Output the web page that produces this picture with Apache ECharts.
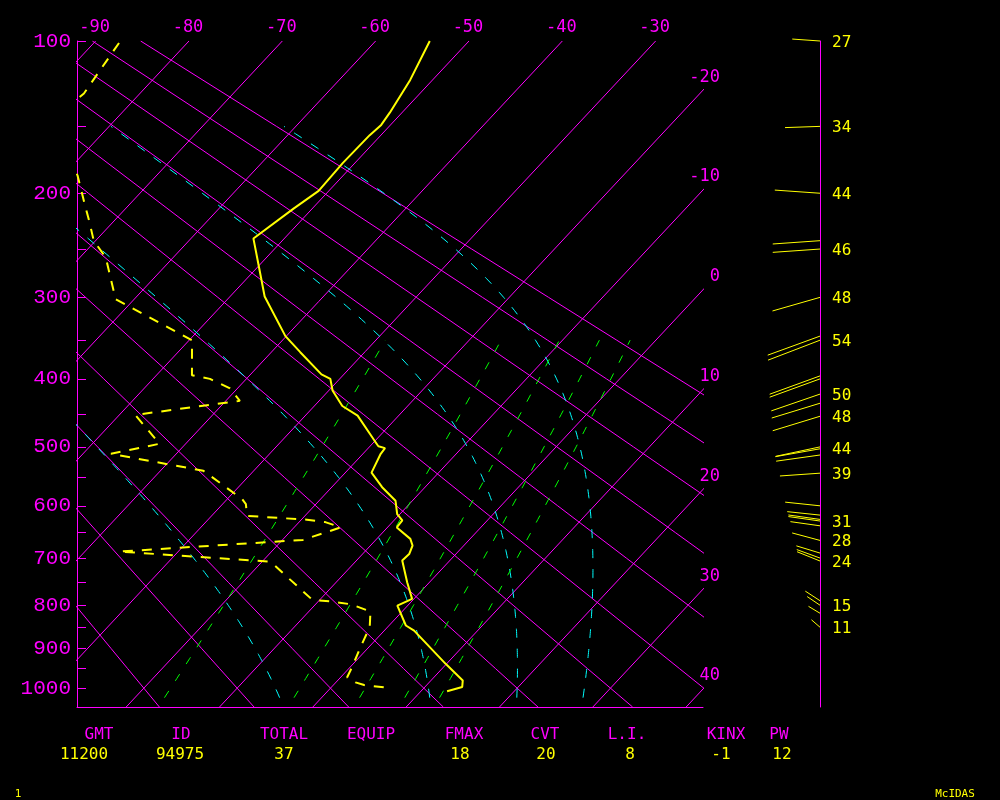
<!DOCTYPE html>
<html><head><meta charset="utf-8">
<script src="https://cdn.jsdelivr.net/npm/echarts@6/dist/echarts.min.js"></script>
<style>html,body{margin:0;padding:0;background:#000}#c{width:1000px;height:800px}</style>
</head><body><div id="c"></div>
<script>
// ---------------- data ----------------
const PRES_T=[100,121,141,149,156,176,198,213,240,260,299,345,365,394,400,416,438,452,490,499,502,511,542,567,591,615,627,640,662,675,692,705,750,786,801,846,858,938,980,997,1008];
const TEMP=[-54.2,-52.4,-51.3,-51.0,-51.2,-51.3,-51.1,-52.0,-53.3,-50.8,-46.3,-40.1,-36.9,-32.4,-31.0,-29.6,-27.0,-24.4,-20.1,-19.1,-18.2,-18.1,-17.2,-14.6,-11.8,-10.3,-9.1,-9.0,-6.4,-5.5,-5.0,-5.1,-2.4,-0.2,-1.1,1.8,3.2,9.9,13.4,14.0,12.8];
const PRES_D=[101,129,150,170,185.5,193,208,225,242,258.5,302,350,395,400,413,430.5,451,495,511,539,588,597,618.5,625.5,630,640,664,687,707,714,788,792,798,814,850,897,946,972,985,992,1000];
const DEWP=[-87.3,-86.0,-87,-82,-78.5,-77.3,-75.0,-72.5,-70.2,-67.2,-62.0,-49.7,-46.2,-43.9,-40.8,-38.5,-48.3,-42.8,-47.0,-35.4,-28.4,-27.5,-26.2,-19.4,-17.2,-15.0,-17.8,-36.3,-19.4,-18.4,-10.8,-8.5,-6.2,-3.4,-1.9,-0.9,0.2,0.7,2.1,3.3,6.6];
const WIND_P=[100,150,200,242,250,300,345,350,396,400,421,434,453,500,503,513,543,600,617,625,628,637,665,690,700,706,790,800,818,850];
const WIND_DIR=[274,268,274,266,266,254,250,249,250,250,251,253,253,258,260,262,266,276,276,278,278,278,285,287,290,292,303,304,301,311];
const WIND_SPD=[27,34,44,46,46,48,54,54,52,52,50,49,48,44,44,43,39,34,32,31,31,29,28,24,24,24,17,15,13,11];
const WLAB_P=[100,150,200,250,300,350,421,453,503,543,628,665,706,800,850];
const WLAB_TXT=['27','34','44','46','48','54','50','48','44','39','31','28','24','15','11'];
const ISOTHERMS=[-90,-80,-70,-60,-50,-40,-30,-20,-10,0,10,20,30,40];
const DRY_THETA=[-20,-10,0,10,20,30,40,50,60,70,80,90];
const MOIST_T1000=[-5.9,10.5,20.0,27.2];
const MIX_RATIO=[1,3,5,7,9];
const PRES_LABELS=[100,200,300,400,500,600,700,800,900,1000];
const PRES_TICKS=[100,150,200,250,300,350,400,450,500,550,600,650,700,750,800,850,900,950,1000];
const HDR=['GMT','ID','TOTAL','EQUIP','FMAX','CVT','L.I.','KINX','PW'];
const VALS=['11200','94975','37','','18','20','8','-1','12'];

// ---------------- projection (Stuve-type, skewed) ----------------
const K=0.286, PTOP=Math.pow(100,K), PBOT=Math.pow(1050,K), SK=18.64;
const XMIN=-92.0, XMAX=XMIN+626/9.333;
function sk(p,t){const P=Math.pow(p,K);return [t-SK*(P-PTOP),P];}

const MAG='#ff00ff', YEL='#ffff00', CYA='#00ffff', GRN='#00ff00';
const series=[];
function addLine(data,color,width,type){
  series.push({type:'line',xAxisIndex:0,yAxisIndex:0,data:data,showSymbol:false,symbol:'none',silent:true,clip:true,
    lineStyle:{color:color,width:width,type:type||'solid'},z:2});
}
// isotherms
ISOTHERMS.forEach(t=>addLine([sk(100,t),sk(1050,t)],MAG,1));
// dry adiabats
DRY_THETA.forEach(th=>{const d=[];for(let p=1050;p>=100;p-=50){d.push(sk(p,(th+273.15)*Math.pow(p/1000,K)-273.15));}addLine(d,MAG,1);});
// moist adiabats (pseudo-adiabatic integration from the 1000 hPa temperature)
const LF=0.93;
function es(tc){return 6.112*Math.exp(17.67*tc/(tc+243.5));}
function dTdp(p,T){const e=es(T-273.15);const rs=LF*0.622*e/(p-e);const L=2.501e6;
  return ((287.04*T+L*rs)/(1005.7+L*L*rs*0.622/(287.04*T*T)))/p;}
function moist(t0){const T=t0+273.15;const up=[],dn=[];let p;let Tu=T;
  for(p=1000;p>=150;p-=5){up.push(sk(p,Tu-273.15));const h=-5;const k1=dTdp(p,Tu),k2=dTdp(p+h/2,Tu+h/2*k1),k3=dTdp(p+h/2,Tu+h/2*k2),k4=dTdp(p+h,Tu+h*k3);Tu+=h/6*(k1+2*k2+2*k3+k4);}
  let Td=T;for(p=1000;p<1025;p+=5){const h=5;const k1=dTdp(p,Td),k2=dTdp(p+h/2,Td+h/2*k1),k3=dTdp(p+h/2,Td+h/2*k2),k4=dTdp(p+h,Td+h*k3);Td+=h/6*(k1+2*k2+2*k3+k4);dn.push(sk(p+h,Td-273.15));}
  return dn.reverse().concat(up);}
MOIST_T1000.forEach(t=>addLine(moist(t),CYA,1,[9,11]));
// mixing ratio lines
MIX_RATIO.forEach(w=>{const d=[];for(let p=1025;p>=350;p-=25){const e=w*p/(622+w);const l=Math.log(e/6.112);d.push(sk(p,243.5*l/(17.67-l)));}addLine(d,GRN,1,[8,12]);});
// sounding
addLine(PRES_D.map((p,i)=>sk(p,DEWP[i])),YEL,2,[10,9]);
addLine(PRES_T.map((p,i)=>sk(p,TEMP[i])),YEL,2);
series[series.length-1].z=5;series[series.length-2].z=5;

// isotherm labels
series.push({type:'custom',xAxisIndex:0,yAxisIndex:0,silent:true,clip:false,z:6,
  data:ISOTHERMS.map(t=>[t,PTOP]),
  renderItem:function(params,api){const t=api.value(0);
    if(t<=-30){const c=api.coord(sk(100,t));return {type:'text',x:c[0]-1,y:c[1]-13,style:{text:String(t),fill:MAG,font:'17px "DejaVu Sans Mono"',textAlign:'center',textVerticalAlign:'middle'}};}
    const P=PTOP+(t-XMAX)/SK;const c=api.coord([XMAX,P]);
    return {type:'text',x:c[0]+17,y:c[1]-13,style:{text:String(t),fill:MAG,font:'17px "DejaVu Sans Mono"',textAlign:'right',textVerticalAlign:'middle'}};}
});
// wind vectors
series.push({type:'custom',xAxisIndex:1,yAxisIndex:1,silent:true,clip:false,z:6,
  data:WIND_P.map((p,i)=>[1,Math.pow(p,K),WIND_DIR[i],WIND_SPD[i]]),encode:{x:0,y:1},
  renderItem:function(params,api){const c=api.coord([1,api.value(1)]);const d=api.value(2)*Math.PI/180,L=api.value(3)*1.03;
    return {type:'line',shape:{x1:c[0],y1:c[1],x2:c[0]+L*Math.sin(d),y2:c[1]-L*Math.cos(d)},style:{stroke:YEL,lineWidth:1}};}
});
series.push({type:'custom',xAxisIndex:1,yAxisIndex:1,silent:true,clip:false,z:6,
  data:WLAB_P.map((p,i)=>[1,Math.pow(p,K),i]),encode:{x:0,y:1},
  renderItem:function(params,api){const c=api.coord([1,api.value(1)]);
    return {type:'text',x:c[0]+12,y:c[1]+1.5,style:{text:WLAB_TXT[api.value(2)],fill:YEL,font:'16px "DejaVu Sans Mono"',textAlign:'left',textVerticalAlign:'middle'}};}
});

const graphics=[];
HDR.forEach((h,i)=>graphics.push({type:'text',x:[99,181,284,371,464,545,627,726,779][i],y:735,style:{text:h,fill:MAG,font:'16px "DejaVu Sans Mono"',textAlign:'center',textVerticalAlign:'middle'}}));
VALS.forEach((v,i)=>graphics.push({type:'text',x:[84,180,284,371,460,546,630,721,782][i],y:755,style:{text:v,fill:YEL,font:'16px "DejaVu Sans Mono"',textAlign:'center',textVerticalAlign:'middle'}}));
graphics.push({type:'text',x:18,y:794,style:{text:'1',fill:YEL,font:'11px "DejaVu Sans Mono"',textAlign:'center',textVerticalAlign:'middle'}});
graphics.push({type:'text',x:955,y:794,style:{text:'McIDAS',fill:YEL,font:'11px "DejaVu Sans Mono"',textAlign:'center',textVerticalAlign:'middle'}});

const chart=echarts.init(document.getElementById('c'),null,{renderer:'canvas'});
chart.setOption({
  backgroundColor:'#000',animation:false,
  grid:[{left:77,top:41,width:626,height:666,containLabel:false,outerBoundsMode:'none'},
        {left:720,top:41,width:100,height:666,containLabel:false,outerBoundsMode:'none'}],
  xAxis:[{type:'value',gridIndex:0,min:XMIN,max:XMAX,axisLine:{show:true,onZero:false,lineStyle:{color:MAG,width:1}},axisTick:{show:false},axisLabel:{show:false},splitLine:{show:false}},
         {type:'value',gridIndex:1,min:0,max:1,show:false}],
  yAxis:[{type:'value',gridIndex:0,min:PTOP,max:PBOT,inverse:true,position:'left',
          axisLine:{show:true,onZero:false,lineStyle:{color:MAG,width:1}},
          axisTick:{show:true,inside:true,length:9,lineStyle:{color:MAG,width:1},customValues:PRES_TICKS.map(p=>Math.pow(p,K))},
          axisLabel:{show:true,color:MAG,fontFamily:'Liberation Mono',fontSize:21,margin:6,padding:[6,0,0,0],
            customValues:PRES_LABELS.map(p=>Math.pow(p,K)),formatter:v=>String(Math.round(Math.pow(v,1/K)))},
          splitLine:{show:false}},
         {type:'value',gridIndex:1,min:PTOP,max:PBOT,inverse:true,position:'right',
          axisLine:{show:true,onZero:false,lineStyle:{color:MAG,width:1}},axisTick:{show:false},axisLabel:{show:false},splitLine:{show:false}}],
  series:series,
  graphic:graphics
});
</script></body></html>
